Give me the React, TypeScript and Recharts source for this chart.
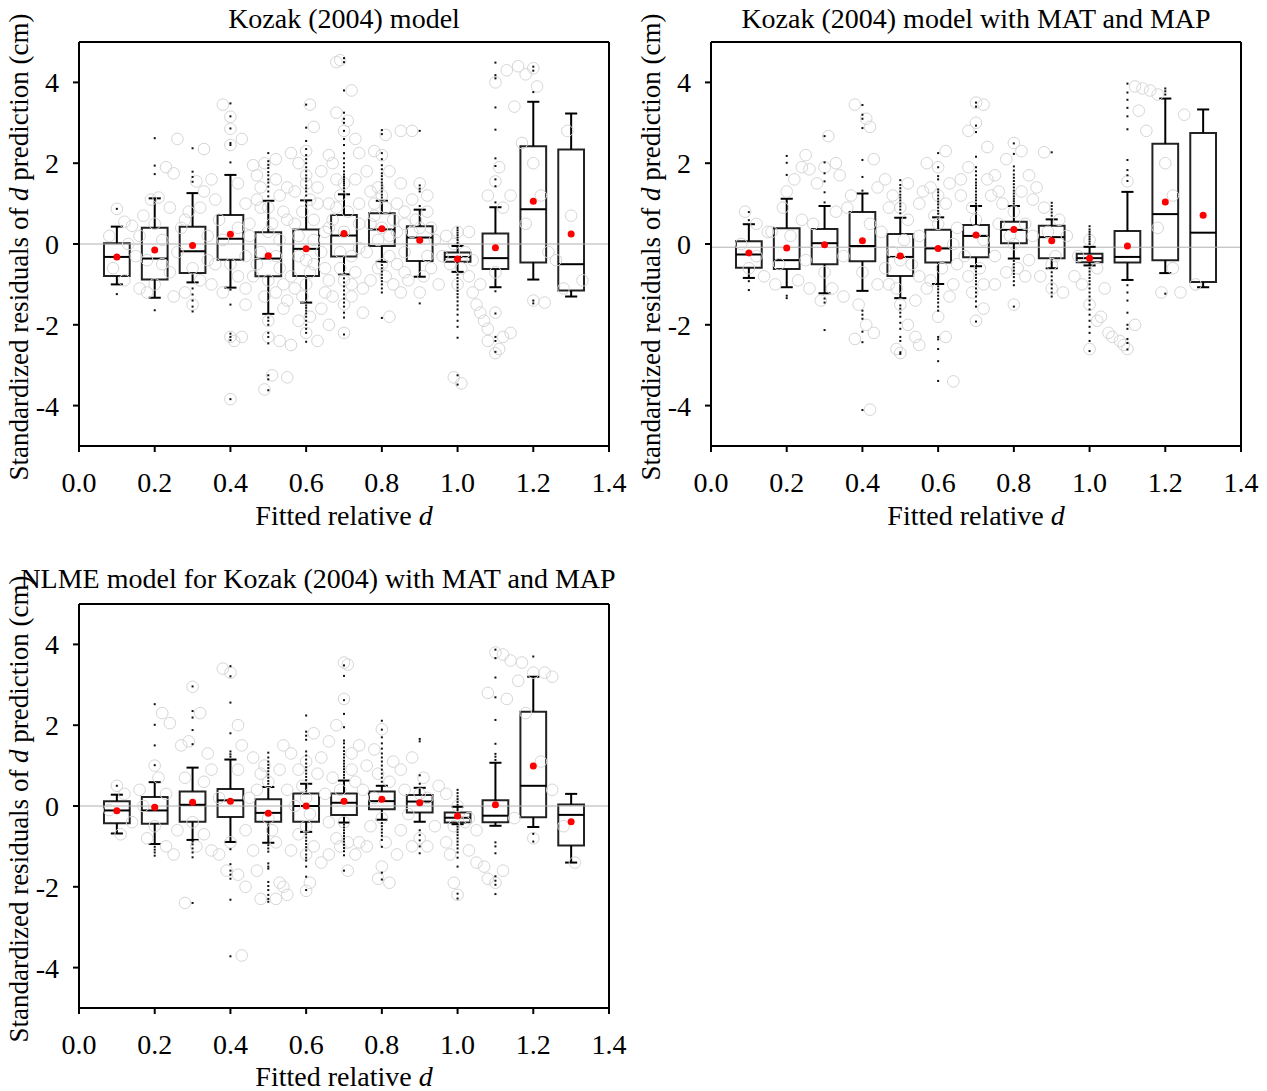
import React from 'react';
import { ComposedChart, Scatter, XAxis, YAxis, ReferenceArea, ReferenceLine } from 'recharts';

const FONT = '"Liberation Serif", "Times New Roman", serif';

const bins = [0.1, 0.2, 0.3, 0.4, 0.5, 0.6, 0.7, 0.8, 0.9, 1.0, 1.1, 1.2, 1.3];
const xTicks = [0, 0.2, 0.4, 0.6, 0.8, 1.0, 1.2, 1.4];
const yTicks = [-4, -2, 0, 2, 4];

// Kozak (2004) model
const q1A = [-0.79, -0.88, -0.72, -0.39, -0.8, -0.79, -0.31, -0.05, -0.42, -0.44, -0.62, -0.46, -1.15];
const q3A = [0.02, 0.4, 0.43, 0.72, 0.29, 0.36, 0.72, 0.76, 0.44, -0.21, 0.26, 2.42, 2.34];
const medA = [-0.32, -0.36, -0.18, 0.13, -0.36, -0.12, 0.21, 0.36, 0.16, -0.32, -0.35, 0.86, -0.5];
const meanA = [-0.32, -0.15, -0.04, 0.24, -0.29, -0.12, 0.26, 0.38, 0.09, -0.37, -0.09, 1.06, 0.25];
const loA = [-1.0, -1.33, -0.95, -1.08, -1.73, -1.45, -0.75, -0.44, -0.81, -0.69, -1.07, -0.88, -1.3];
const hiA = [0.43, 1.13, 1.26, 1.71, 1.07, 1.08, 1.23, 1.07, 0.85, -0.05, 0.91, 3.52, 3.23];
const outA = [
  [0.87, -1.24],
  [1.73, 1.94, 2.62, -1.64],
  [1.54, 1.66, 1.79, 2.37, -1.1, -1.25, -1.4, -1.55, -1.67],
  [2.02, 2.45, 2.5, 2.86, 3.16, 3.48, -1.13, -1.5, -2.22, -2.3, -2.38, -3.84],
  [1.18, 1.3, 1.42, 1.52, 1.6, 1.7, 1.78, 1.88, 1.96, 2.05, 2.25, -1.82, -1.9, -2.0, -2.2, -2.3, -2.46, -3.25, -3.35, -3.62],
  [1.2, 1.3, 1.38, 1.45, 1.55, 1.62, 1.7, 1.8, 1.9, 2.0, 2.1, 2.2, 2.35, 2.55, 2.88, 3.45, -1.52, -1.58, -1.65, -1.72, -1.8, -1.9, -2.0, -2.1, -2.2, -2.42],
  [1.3, 1.38, 1.45, 1.5, 1.55, 1.6, 1.66, 1.72, 1.8, 1.9, 2.0, 2.12, 2.25, 2.45, 2.6, 2.8, 3.0, 3.1, 3.25, 3.8, 4.5, 4.6, -0.85, -0.95, -1.05, -1.15, -1.25, -1.35, -1.45, -1.55, -1.7, -1.82, -2.24],
  [1.15, 1.22, 1.3, 1.38, 1.45, 1.52, 1.6, 1.68, 1.75, 1.85, 1.95, 2.1, 2.25, 2.72, 2.82, -0.52, -0.6, -0.68, -0.76, -0.84, -0.92, -1.0, -1.1, -1.2, -1.83],
  [0.94, 1.3, 1.37, 1.45, 2.8, -1.47],
  [0.03, 0.1, 0.16, 0.22, 0.28, 0.34, 0.4, -0.76, -0.84, -0.92, -1.0, -1.08, -1.16, -1.24, -1.32, -1.42, -1.52, -1.62, -1.75, -1.9, -2.05, -2.32, -3.25, -3.48],
  [1.03, 1.43, 1.6, 1.93, 2.12, 2.83, 3.38, 4.1, 4.18, 4.49, -1.17, -1.72, -2.3, -2.4, -2.67],
  [3.76, 4.29, 4.39, -1.4, -1.47],
  [],
];
const cloudA: [number, number][] = [
  [0.1, 0.87], [0.12, 0.55], [0.14, 0.45], [0.08, 0.2], [0.13, 0.0], [0.15, -0.3], [0.09, -0.6], [0.12, -0.9],
  [0.16, -1.1], [0.18, -1.2], [0.2, -1.0], [0.17, 0.7], [0.19, 1.1], [0.21, 1.15], [0.23, 1.9], [0.25, 1.75],
  [0.26, 2.6], [0.24, 0.9], [0.27, 0.4], [0.22, -0.5], [0.25, -1.3], [0.28, -1.2], [0.3, -1.5], [0.29, 0.8],
  [0.31, 1.55], [0.33, 1.3], [0.33, 2.35], [0.35, 1.6], [0.32, -0.9], [0.35, -1.0], [0.36, -0.5], [0.34, 0.2],
  [0.38, 3.45], [0.4, 3.15], [0.4, 2.85], [0.4, 2.45], [0.43, 2.6], [0.42, 1.5], [0.44, 1.0], [0.38, -1.2],
  [0.4, -2.3], [0.41, -2.4], [0.43, -2.3], [0.4, -3.84], [0.44, -1.5], [0.37, 0.6], [0.42, -0.8], [0.45, 0.2],
  [0.46, 1.95], [0.47, 1.7], [0.48, 1.4], [0.49, 2.0], [0.52, 1.6], [0.53, 1.2], [0.5, 0.9], [0.55, 0.6],
  [0.48, -0.2], [0.52, -1.2], [0.54, -1.6], [0.5, -1.9], [0.5, -2.3], [0.53, -2.4], [0.56, -2.5], [0.51, -3.25],
  [0.55, -3.3], [0.49, -3.6], [0.56, 2.25], [0.58, 2.0], [0.6, 2.3], [0.61, 3.45], [0.62, 2.9], [0.6, 1.5],
  [0.63, 1.0], [0.57, 0.5], [0.62, -0.5], [0.59, -1.3], [0.61, -1.8], [0.6, -2.2], [0.63, -2.4], [0.65, -1.2],
  [0.64, 1.8], [0.66, 2.2], [0.68, 4.5], [0.69, 4.55], [0.72, 3.8], [0.68, 3.25], [0.71, 3.05], [0.7, 2.8],
  [0.73, 2.6], [0.67, 2.0], [0.7, 1.5], [0.74, 1.0], [0.66, 0.4], [0.69, -0.6], [0.72, -1.0], [0.7, -1.5],
  [0.7, -2.2], [0.75, -1.7], [0.74, 2.25], [0.78, 2.3], [0.8, 2.2], [0.81, 2.7], [0.82, 1.8], [0.79, 1.4],
  [0.84, 1.0], [0.77, 0.5], [0.8, -0.5], [0.83, -1.0], [0.82, -1.8], [0.86, -0.7], [0.85, 2.8], [0.88, 2.8],
  [0.86, 0.8], [0.9, 1.5], [0.92, 0.8], [0.88, 0.3], [0.93, -0.6], [0.9, -1.2], [0.95, -1.0], [0.92, 1.2],
  [0.97, 0.2], [1.0, 0.3], [1.02, -0.2], [0.98, -0.5], [1.03, -0.8], [1.0, -1.0], [1.04, -1.2], [1.05, -1.5],
  [1.06, -1.7], [1.07, -1.9], [1.08, -2.1], [0.99, -3.3], [1.01, -3.45], [1.06, -1.0], [1.03, 0.3],
  [1.1, 1.55], [1.11, 1.9], [1.08, 1.2], [1.12, 0.9], [1.1, -0.7], [1.1, -1.7], [1.12, -2.3], [1.11, -2.6],
  [1.14, -2.2], [1.1, 4.0], [1.13, 4.3], [1.16, 4.4], [1.15, 3.4], [1.14, 1.2], [1.08, -2.4], [1.1, -2.7],
  [1.18, 4.2], [1.2, 4.35], [1.21, 3.9], [1.17, 2.5], [1.2, 2.0], [1.22, 1.2], [1.18, 0.5], [1.24, -0.2],
  [1.2, -1.4], [1.23, -1.45], [1.26, -0.4], [1.29, 2.8], [1.3, 0.7], [1.33, -0.9], [1.28, -1.1],
  [0.45, 0.5], [0.47, -0.5], [0.5, 0.3], [0.52, -0.3], [0.54, 0.8], [0.56, -0.8], [0.58, 0.2], [0.6, -0.4],
  [0.62, 0.6], [0.64, -0.2], [0.66, -0.9], [0.68, 0.9], [0.7, 0.3], [0.72, -0.3], [0.74, 0.5], [0.76, -0.2],
  [0.78, 1.0], [0.8, 0.4], [0.82, -0.3], [0.84, 0.3], [0.86, -0.2], [0.88, 1.1], [0.9, 0.4], [0.92, -0.3],
  [0.94, 0.1], [0.57, 1.3], [0.61, 1.1], [0.65, 0.3], [0.69, 1.2], [0.73, -0.7], [0.77, -0.9], [0.81, 0.9],
  [0.85, -1.2], [0.55, -1.4], [0.6, -1.0], [0.48, 0.9], [0.44, -0.3], [0.5, -0.9], [0.67, -1.3], [0.79, -0.6],
  [0.16, 0.2], [0.18, -0.4], [0.2, 0.5], [0.22, 0.1], [0.24, -0.7], [0.26, -0.2], [0.28, 0.6], [0.3, -0.6],
  [0.32, 0.9], [0.34, -0.4], [0.36, 1.1], [0.38, 0.1], [0.4, -0.5], [0.42, 0.4], [0.44, -1.1], [0.46, -0.8],
  [0.47, 1.1], [0.49, -1.3], [0.51, 0.5], [0.53, -0.6], [0.55, 1.4], [0.57, -1.1], [0.59, 0.8], [0.61, -0.7],
  [0.63, 1.4], [0.65, -0.6], [0.67, 0.6], [0.69, -0.2], [0.71, 0.8], [0.73, 1.6], [0.75, -1.1], [0.77, 1.3],
  [0.79, 0.1], [0.81, -0.8], [0.83, 0.6], [0.85, 1.5], [0.87, -0.9], [0.89, 0.6], [0.91, -0.8], [0.93, 0.4],
  [0.53, 0.1], [0.58, -0.3], [0.62, 0.1], [0.66, 1.0], [0.7, -0.9], [0.74, -0.1], [0.78, 0.7], [0.82, 0.2],
  [0.86, 0.5], [0.54, -1.0], [0.6, 1.7], [0.64, -1.6], [0.68, 1.6], [0.72, -1.3], [0.76, 1.8], [0.8, 1.2],
  [0.84, -0.5], [0.96, -0.3], [0.99, 0.0], [1.01, -0.6], [1.04, -0.4], [0.52, 2.1], [0.58, -1.9], [0.66, -2.0],
];

// Kozak (2004) model with MAT and MAP
const q1B = [-0.59, -0.62, -0.5, -0.43, -0.79, -0.46, -0.33, 0.02, -0.35, -0.45, -0.46, -0.4, -0.94];
const q3B = [0.07, 0.39, 0.37, 0.79, 0.25, 0.35, 0.47, 0.55, 0.45, -0.24, 0.32, 2.48, 2.75];
const medB = [-0.26, -0.4, 0.02, -0.05, -0.32, -0.11, 0.2, 0.35, 0.17, -0.35, -0.32, 0.74, 0.28];
const meanB = [-0.22, -0.1, -0.02, 0.08, -0.3, -0.11, 0.22, 0.36, 0.08, -0.35, -0.05, 1.04, 0.71];
const loB = [-0.84, -1.07, -1.22, -1.16, -1.34, -0.99, -0.55, -0.36, -0.6, -0.53, -0.89, -0.72, -1.07];
const hiB = [0.49, 1.12, 0.94, 1.25, 0.65, 0.66, 0.94, 0.94, 0.61, -0.07, 1.29, 3.6, 3.33];
const outB = [
  [0.59, 0.79, -0.92, -1.14],
  [1.71, 2.01, 2.18, -1.28, -1.34],
  [1.03, 1.28, 1.55, 1.75, 2.02, 2.67, -1.35, -1.45, -2.13],
  [1.32, 1.66, 2.08, 2.87, 3.1, 3.2, 3.44, -1.65, -1.75, -1.85, -2.17, -2.43, -4.11],
  [0.76, 0.85, 0.93, 1.0, 1.08, 1.15, 1.22, 1.3, 1.38, 1.46, 1.58, -1.52, -1.6, -1.7, -1.8, -1.95, -2.1, -2.3, -2.4, -2.68, -2.72],
  [0.75, 0.82, 0.9, 0.98, 1.05, 1.12, 1.2, 1.28, 1.35, 1.6, 1.68, 1.9, 2.25, -1.05, -1.12, -1.2, -1.28, -1.36, -1.45, -1.55, -1.65, -2.3, -2.36, -2.6, -2.9, -3.39],
  [1.0, 1.08, 1.15, 1.22, 1.3, 1.38, 1.45, 1.52, 1.6, 1.7, 1.8, 1.9, 2.16, 2.77, 2.93, 3.4, 3.5, -0.6, -0.68, -0.76, -0.84, -0.92, -1.0, -1.1, -1.2, -1.3, -1.42, -1.55, -1.92],
  [1.0, 1.06, 1.12, 1.18, 1.25, 1.32, 1.4, 1.48, 1.56, 1.64, 1.72, 1.82, 1.92, 2.23, 2.49, -0.42, -0.5, -0.58, -0.66, -0.74, -0.82, -0.92, -1.02, -1.55],
  [0.7, 0.78, 0.86, 0.94, 1.02, 2.27, -0.7, -0.8, -0.9, -1.0, -1.1, -1.2, -1.3],
  [0.0, 0.06, 0.12, 0.18, 0.24, 0.3, 0.36, 0.44, -0.6, -0.68, -0.76, -0.84, -0.92, -1.0, -1.1, -1.2, -1.3, -1.4, -1.5, -1.62, -1.75, -1.9, -2.05, -2.2, -2.4, -2.65],
  [1.56, 1.7, 1.83, 2.08, 2.84, 3.16, 3.37, 3.57, 3.75, 3.97, -1.02, -1.2, -1.4, -1.7, -2.0, -2.1, -2.35, -2.45, -2.61],
  [3.7, 3.78, 3.85, -1.23],
  [],
];
const cloudB: [number, number][] = [
  [0.09, 0.8], [0.12, 0.5], [0.15, 0.3], [0.08, 0.0], [0.12, -0.3], [0.1, -0.6], [0.14, -0.8], [0.17, -1.0],
  [0.19, 0.9], [0.2, 1.3], [0.22, 1.6], [0.24, 1.9], [0.25, 2.2], [0.26, 1.85], [0.23, -0.9], [0.26, -1.1],
  [0.24, 0.6], [0.28, 1.5], [0.3, 1.9], [0.31, 2.67], [0.33, 2.0], [0.34, 1.7], [0.32, -1.1], [0.29, -1.4],
  [0.35, -1.3], [0.36, 0.9], [0.38, 3.45], [0.41, 3.1], [0.42, 2.9], [0.43, 2.1], [0.44, 1.4], [0.39, -1.5],
  [0.41, -2.0], [0.43, -2.2], [0.38, -2.35], [0.42, -4.1], [0.46, 1.6], [0.48, 1.2], [0.5, 0.9], [0.52, 1.5],
  [0.47, -1.0], [0.5, -1.5], [0.52, -2.0], [0.49, -2.6], [0.5, -2.7], [0.54, -2.3], [0.55, -2.5], [0.55, 1.0],
  [0.57, 2.0], [0.6, 1.9], [0.62, 2.3], [0.6, -1.8], [0.62, -2.3], [0.64, -3.4], [0.63, -1.3], [0.58, -0.9],
  [0.66, 1.2], [0.68, 2.8], [0.7, 3.0], [0.7, 3.5], [0.72, 3.45], [0.73, 2.4], [0.69, -1.2], [0.72, -1.6],
  [0.7, -1.9], [0.75, 1.7], [0.78, 2.1], [0.8, 2.5], [0.82, 2.3], [0.8, -1.5], [0.83, -0.8], [0.86, 1.4],
  [0.88, 2.27], [0.9, -1.1], [0.93, -1.2], [0.92, 0.6], [0.96, -0.8], [0.98, -1.0], [1.0, -1.5], [1.02, -1.9],
  [1.03, -1.8], [1.05, -2.2], [1.06, -2.3], [1.08, -2.4], [1.09, -2.5], [1.0, -2.6], [1.1, 1.55], [1.12, 3.9],
  [1.14, 3.85], [1.16, 3.8], [1.18, 3.7], [1.13, 3.3], [1.15, 2.8], [1.2, 2.0], [1.22, 1.2], [1.25, 3.2],
  [1.19, -1.2], [1.24, -1.2], [1.28, -1.0], [1.12, -2.0], [1.1, -2.6], [1.22, -0.6], [1.18, 0.4],
  [0.45, 0.3], [0.5, -0.4], [0.55, 0.2], [0.6, 0.5], [0.65, -0.5], [0.7, 0.6], [0.75, -0.3], [0.8, 0.8],
  [0.85, 0.2], [0.9, -0.5], [0.55, -0.8], [0.62, 1.0], [0.68, -0.8], [0.74, 1.2], [0.78, -0.7], [0.84, -0.4],
  [0.88, 0.9], [0.58, 1.4], [0.64, 0.0], [0.72, 0.1], [0.82, 1.3], [0.48, -0.2], [0.52, 0.6], [0.66, 1.6],
  [0.76, 0.5], [0.16, 0.3], [0.18, -0.5], [0.21, 0.2], [0.25, -0.4], [0.27, 0.5], [0.3, -0.7], [0.33, 0.8],
  [0.35, -0.3], [0.37, 1.2], [0.4, -0.7], [0.42, 0.5], [0.44, -1.0], [0.46, -0.6], [0.47, 0.9], [0.49, -1.1],
  [0.51, 0.1], [0.53, -0.5], [0.56, 1.3], [0.57, -1.1], [0.59, 0.7], [0.61, -0.6], [0.63, 1.5], [0.65, 0.4],
  [0.67, -0.3], [0.69, 0.9], [0.71, -0.6], [0.73, 1.6], [0.75, -1.0], [0.77, 1.0], [0.79, 0.2], [0.81, -0.6],
  [0.83, 0.5], [0.85, 1.1], [0.87, -0.8], [0.89, 0.3], [0.91, -0.3], [0.94, 0.2], [0.54, -1.4], [0.6, 1.2],
  [0.64, -1.0], [0.68, 1.9], [0.72, -1.0], [0.76, 1.3], [0.8, 0.0], [0.84, 1.7], [0.97, -0.3], [1.0, 0.1],
  [1.02, -0.6], [1.04, -1.1],
];

// NLME model for Kozak (2004) with MAT and MAP
const q1C = [-0.43, -0.44, -0.39, -0.27, -0.39, -0.39, -0.22, -0.08, -0.16, -0.41, -0.4, -0.28, -0.98];
const q3C = [0.12, 0.22, 0.36, 0.42, 0.17, 0.31, 0.31, 0.36, 0.27, -0.16, 0.14, 2.33, 0.04];
const medC = [-0.11, -0.11, 0.03, 0.14, -0.17, 0.0, 0.08, 0.12, 0.11, -0.29, -0.24, 0.5, -0.22];
const meanC = [-0.12, -0.03, 0.09, 0.12, -0.18, 0.0, 0.12, 0.17, 0.08, -0.25, 0.03, 0.99, -0.39];
const loC = [-0.68, -0.94, -0.84, -0.89, -0.91, -0.64, -0.41, -0.34, -0.39, -0.45, -0.49, -0.52, -1.4];
const hiC = [0.28, 0.59, 0.95, 1.15, 0.47, 0.55, 0.63, 0.5, 0.45, -0.02, 1.07, 3.2, 0.3];
const outC = [
  [0.5],
  [1.01, 1.5, 2.01, 2.52, -1.01, -1.08, -1.15, -1.23],
  [1.53, 1.88, 2.19, 2.35, 2.96, -0.88, -0.95, -1.05, -1.15, -1.27, -2.4],
  [1.22, 1.28, 1.35, 1.8, 2.56, 3.21, 3.46, -1.07, -1.44, -1.6, -1.7, -1.8, -2.32, -3.72],
  [0.55, 0.62, 0.7, 0.78, 0.86, 0.94, 1.02, 1.1, 1.2, 1.32, -0.97, -1.05, -1.13, -1.42, -1.5, -1.55, -1.88, -1.98, -2.08, -2.2, -2.3, -2.37],
  [0.64, 0.72, 0.8, 0.88, 0.96, 1.05, 1.15, 1.25, 1.35, 1.64, 1.74, 1.84, 2.24, -0.7, -0.78, -0.86, -0.94, -1.02, -1.1, -1.2, -1.28, -1.35, -1.5, -1.75, -2.08],
  [0.7, 0.77, 0.84, 0.91, 0.98, 1.05, 1.12, 1.2, 1.28, 1.36, 1.45, 1.55, 1.62, 1.95, 2.28, 2.62, 3.22, 3.48, -0.46, -0.53, -0.6, -0.67, -0.74, -0.81, -0.88, -0.96, -1.04, -1.12, -1.22, -1.6],
  [0.6, 0.7, 0.8, 0.9, 1.0, 1.1, 1.2, 1.3, 1.42, 1.55, 1.7, 1.89, 2.11, -0.42, -0.5, -0.58, -0.66, -0.74, -0.84, -1.01, -1.65, -1.82],
  [0.55, 0.76, 1.6, 1.66, -0.6, -0.72, -0.85, -1.0, -1.17],
  [0.03, 0.1, 0.17, 0.24, 0.32, 0.4, -0.51, -0.58, -0.65, -0.72, -0.8, -0.88, -0.96, -1.05, -1.15, -1.28, -1.5, -2.17, -2.29],
  [1.14, 1.22, 1.29, 1.54, 2.13, 2.69, 3.18, 3.66, 3.87, -0.9, -1.0, -1.17, -1.74, -1.85, -1.95, -2.18],
  [3.7, -0.69, -0.88],
  [],
];
const cloudC: [number, number][] = [
  [0.1, 0.5], [0.12, 0.3], [0.08, -0.1], [0.14, -0.4], [0.11, -0.7], [0.16, 0.4], [0.18, -0.8], [0.2, 1.0],
  [0.22, 2.3], [0.24, 2.05], [0.21, 0.7], [0.23, -1.0], [0.25, -1.2], [0.27, 1.5], [0.29, 1.6], [0.3, 2.95],
  [0.32, 2.3], [0.34, 1.3], [0.31, -1.0], [0.28, -2.4], [0.35, -1.1], [0.33, 0.6], [0.38, 3.4], [0.4, 3.3],
  [0.42, 2.0], [0.43, 1.5], [0.37, -1.2], [0.39, -1.6], [0.42, -1.7], [0.44, -2.0], [0.43, -3.7], [0.46, 1.2],
  [0.48, 0.8], [0.5, 0.6], [0.47, -1.6], [0.48, -2.3], [0.52, -2.3], [0.53, -1.9], [0.55, -2.2], [0.54, -2.0],
  [0.56, 1.3], [0.58, 0.9], [0.6, 1.1], [0.62, 1.8], [0.6, -1.2], [0.61, -1.9], [0.6, -2.1], [0.64, -1.4],
  [0.66, 1.6], [0.68, 2.0], [0.7, 3.55], [0.71, 3.5], [0.7, 2.65], [0.72, 1.3], [0.69, -1.0], [0.73, -1.2],
  [0.71, -1.6], [0.76, 1.0], [0.78, 1.4], [0.8, 1.9], [0.8, -1.5], [0.82, -1.9], [0.79, -1.8], [0.85, 0.9],
  [0.88, 1.2], [0.9, -0.8], [0.92, -1.0], [0.95, 0.5], [0.97, -0.9], [0.98, -1.2], [0.99, -1.9], [1.0, -2.2],
  [1.03, -1.1], [1.05, -1.4], [1.07, -1.5], [1.08, -1.8], [1.1, -1.9], [1.12, -1.6], [1.08, 2.8], [1.1, 3.8],
  [1.12, 3.75], [1.14, 3.6], [1.17, 3.55], [1.2, 3.3], [1.23, 3.3], [1.25, 3.2], [1.13, 2.65], [1.16, 3.1],
  [1.18, 2.3], [1.22, 1.1], [1.25, 0.4], [1.28, -0.5], [1.31, -1.4], [1.2, -0.8], [1.15, -0.3],
  [0.45, 0.2], [0.5, -0.3], [0.55, 0.4], [0.6, -0.5], [0.65, 0.3], [0.7, -0.4], [0.75, 0.4], [0.8, -0.3],
  [0.85, -0.6], [0.9, 0.3], [0.52, -0.9], [0.58, -0.7], [0.63, 0.8], [0.68, -0.8], [0.74, -0.9], [0.82, 0.6],
  [0.87, -0.2], [0.57, 0.0], [0.67, 0.7], [0.77, -0.5], [0.47, 0.4], [0.62, -1.0], [0.72, 0.9], [0.92, 0.2],
  [1.0, 0.0], [1.02, -0.4], [0.97, 0.3], [1.05, -0.6], [0.17, 0.0], [0.2, -0.5], [0.23, 0.3], [0.26, -0.6],
  [0.28, 0.7], [0.3, -0.4], [0.33, -0.7], [0.35, 0.9], [0.37, 0.2], [0.4, -0.9], [0.42, 0.9], [0.44, -0.6],
  [0.46, -1.1], [0.49, 1.0], [0.51, -0.6], [0.53, 0.9], [0.56, -1.1], [0.59, 0.5], [0.61, -0.2], [0.64, 1.2],
  [0.66, -0.4], [0.69, 0.4], [0.71, -0.9], [0.73, 0.6], [0.76, -1.0], [0.78, 0.2], [0.81, -0.9], [0.83, 1.1],
  [0.86, 0.4], [0.88, -1.0], [0.91, 0.7], [0.94, -0.5], [0.54, 1.5], [0.6, 0.2], [0.66, -1.2], [0.74, 1.5],
  [0.79, 0.8], [0.84, -1.2], [0.99, -0.5], [1.03, -0.3],
];

const BOX_HALF = 0.034;
const CAP_HALF = 0.016;
const axisStyle = { stroke: '#000', strokeWidth: 2 };
const tickStyle = { fill: '#000', fontSize: 28, fontFamily: FONT };

const Ring = (p: any) => <circle cx={p.cx} cy={p.cy} r={5.8} fill="none" stroke="#d6d6d6" strokeWidth={1} />;
const Speck = (p: any) => <rect x={p.cx - 1} y={p.cy - 1} width={2} height={2} fill="#111" />;
const MeanDot = (p: any) => <circle cx={p.cx} cy={p.cy} r={3.5} fill="#ff0000" />;

interface PanelProps {
  left: number;
  top: number;
  q1: number[];
  q3: number[];
  med: number[];
  mean: number[];
  lo: number[];
  hi: number[];
  outliers: number[][];
  cloud: [number, number][];
  zeroY: number;
}

function Panel({ left, top, q1, q3, med, mean, lo, hi, outliers, cloud, zeroY }: PanelProps) {
  const cloudPts = cloud.map(([x, y]) => ({ x, y }));
  const outPts = outliers.flatMap((ys, i) => ys.map((y) => ({ x: bins[i], y })));
  const meanPts = bins.map((x, i) => ({ x, y: mean[i] }));

  return (
    <div style={{ position: 'absolute', left, top }}>
      <ComposedChart width={633} height={560} margin={{ top: 32, right: 14, bottom: 74, left: 29 }}>
        <XAxis
          xAxisId="top"
          orientation="top"
          type="number"
          domain={[0, 1.4]}
          ticks={xTicks}
          tick={false}
          height={10}
          tickSize={6}
          axisLine={axisStyle}
          tickLine={axisStyle}
        />
        <XAxis
          type="number"
          dataKey="x"
          domain={[0, 1.4]}
          ticks={xTicks}
          interval={0}
          tickFormatter={(v: number) => v.toFixed(1)}
          height={40}
          tickSize={6}
          tickMargin={20}
          tick={tickStyle}
          axisLine={axisStyle}
          tickLine={axisStyle}
        />
        <YAxis
          type="number"
          dataKey="y"
          domain={[-5, 5]}
          ticks={yTicks}
          interval={0}
          width={50}
          tickSize={6}
          tickMargin={14}
          tick={tickStyle}
          axisLine={axisStyle}
          tickLine={axisStyle}
        />
        <YAxis
          yAxisId="right"
          orientation="right"
          type="number"
          domain={[-5, 5]}
          ticks={yTicks}
          tick={false}
          width={10}
          tickSize={6}
          axisLine={axisStyle}
          tickLine={axisStyle}
        />
        <ReferenceLine y={zeroY} stroke="#b0b0b0" strokeWidth={1} />
        <Scatter data={cloudPts} shape={Ring} isAnimationActive={false} />
        {bins.map((x, i) => (
          <ReferenceArea
            key={`box${i}`}
            x1={x - BOX_HALF}
            x2={x + BOX_HALF}
            y1={q1[i]}
            y2={q3[i]}
            fill="none"
            fillOpacity={0}
            stroke="#222"
            strokeWidth={2}
          />
        ))}
        {bins.map((x, i) => (
          <ReferenceLine key={`med${i}`} segment={[{ x: x - BOX_HALF, y: med[i] }, { x: x + BOX_HALF, y: med[i] }]} stroke="#000" strokeWidth={2} />
        ))}
        {bins.map((x, i) => (
          <ReferenceLine key={`wu${i}`} segment={[{ x, y: q3[i] }, { x, y: hi[i] }]} stroke="#000" strokeWidth={2} />
        ))}
        {bins.map((x, i) => (
          <ReferenceLine key={`wl${i}`} segment={[{ x, y: q1[i] }, { x, y: lo[i] }]} stroke="#000" strokeWidth={2} />
        ))}
        {bins.map((x, i) => (
          <ReferenceLine key={`cu${i}`} segment={[{ x: x - CAP_HALF, y: hi[i] }, { x: x + CAP_HALF, y: hi[i] }]} stroke="#000" strokeWidth={2} />
        ))}
        {bins.map((x, i) => (
          <ReferenceLine key={`cl${i}`} segment={[{ x: x - CAP_HALF, y: lo[i] }, { x: x + CAP_HALF, y: lo[i] }]} stroke="#000" strokeWidth={2} />
        ))}
        <Scatter data={outPts} shape={Speck} isAnimationActive={false} />
        <Scatter data={meanPts} shape={MeanDot} isAnimationActive={false} />
      </ComposedChart>
    </div>
  );
}

const YLabel = ({ x, y }: { x: number; y: number }) => (
  <text x={x} y={y} transform={`rotate(-90 ${x} ${y})`} textAnchor="middle" fontSize={27} fontFamily={FONT}>
    Standardized residuals of <tspan fontStyle="italic">d</tspan> prediction (cm)
  </text>
);

const XLabel = ({ x, y }: { x: number; y: number }) => (
  <text x={x} y={y} textAnchor="middle" fontSize={28} fontFamily={FONT}>
    Fitted relative <tspan fontStyle="italic">d</tspan>
  </text>
);

export default function App() {
  return (
    <div style={{ position: 'absolute', left: 0, top: 0, width: 1267, height: 1091, background: '#fff', fontFamily: FONT }}>
      <Panel left={0} top={0} q1={q1A} q3={q3A} med={medA} mean={meanA} lo={loA} hi={hiA} outliers={outA} cloud={cloudA} zeroY={0} />
      <Panel left={632} top={0} q1={q1B} q3={q3B} med={medB} mean={meanB} lo={loB} hi={hiB} outliers={outB} cloud={cloudB} zeroY={-0.08} />
      <Panel left={0} top={562} q1={q1C} q3={q3C} med={medC} mean={meanC} lo={loC} hi={hiC} outliers={outC} cloud={cloudC} zeroY={0} />
      <svg width={1267} height={1091} style={{ position: 'absolute', left: 0, top: 0, pointerEvents: 'none' }}>
        <text x={344} y={28} textAnchor="middle" fontSize={28} fontFamily={FONT}>Kozak (2004) model</text>
        <text x={976} y={28} textAnchor="middle" fontSize={28} fontFamily={FONT}>Kozak (2004) model with MAT and MAP</text>
        <text x={318} y={588} textAnchor="middle" fontSize={28} fontFamily={FONT}>NLME model for Kozak (2004) with MAT and MAP</text>
        <YLabel x={28} y={247} />
        <YLabel x={660} y={247} />
        <YLabel x={28} y={809} />
        <XLabel x={344} y={525} />
        <XLabel x={976} y={525} />
        <XLabel x={344} y={1086} />
      </svg>
    </div>
  );
}
